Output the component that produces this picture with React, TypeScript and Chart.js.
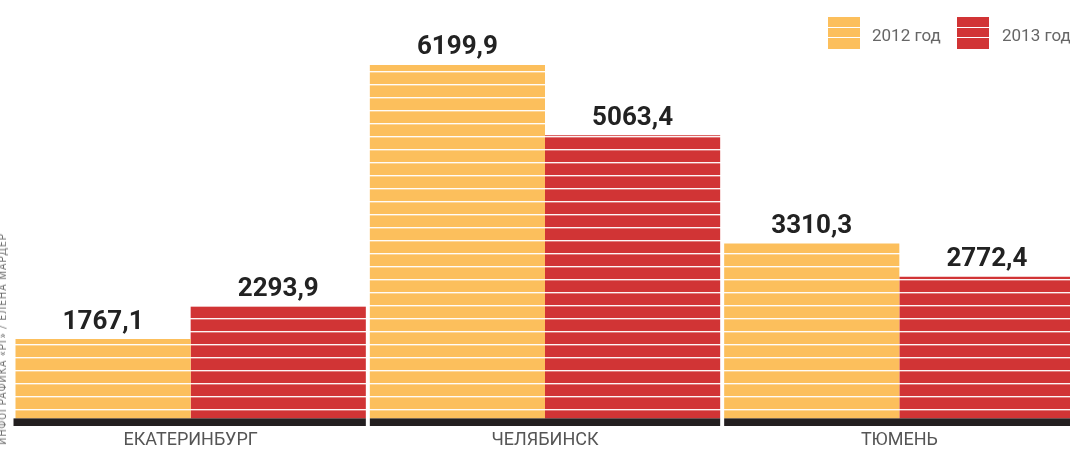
import { useEffect, useRef } from "react";
import { Chart, registerables } from "chart.js";

Chart.register(...registerables);

const categories = ["ЕКАТЕРИНБУРГ", "ЧЕЛЯБИНСК", "ТЮМЕНЬ"];
const values2012 = [1767.1, 6199.9, 3310.3];
const values2013 = [2293.9, 5063.4, 2772.4];
const seriesNames = ["2012 год", "2013 год"];
const creditText = "ИНФОГРАФИКА «РГ» / ЕЛЕНА МАРДЕР";

const COLOR_2012 = "#FCBF5C";
const COLOR_2013 = "#D13435";
const BASE_COLOR = "#231F20";

function makeStripe(color: string): CanvasPattern | string {
  const c = document.createElement("canvas");
  c.width = 16;
  c.height = 13;
  const g = c.getContext("2d");
  if (!g) return color;
  g.fillStyle = color;
  g.fillRect(0, 0, 16, 13);
  g.fillStyle = "rgba(255,255,255,0.95)";
  g.fillRect(0, 6, 16, 1);
  g.fillStyle = "rgba(255,255,255,0.35)";
  g.fillRect(0, 7, 16, 1);
  const p = g.createPattern(c, "repeat");
  return p || color;
}

const fmt = (v: number) => v.toFixed(1).replace(".", ",");

const baseBandPlugin = {
  id: "baseBand",
  afterDatasetsDraw(chart: any) {
    const { ctx, chartArea } = chart;
    const m0 = chart.getDatasetMeta(0).data;
    const m1 = chart.getDatasetMeta(1).data;
    ctx.save();
    ctx.fillStyle = BASE_COLOR;
    for (let i = 0; i < m0.length; i++) {
      const a = m0[i];
      const b = m1[i];
      const left = a.x - a.width / 2 - (i === 0 ? 2 : 0);
      const right = b.x + b.width / 2;
      ctx.fillRect(left, chartArea.bottom, right - left, 7.6);
    }
    ctx.restore();
  },
};

const valueLabelPlugin = {
  id: "valueLabels",
  afterDatasetsDraw(chart: any) {
    const { ctx } = chart;
    ctx.save();
    ctx.font = "bold 26px Roboto";
    ctx.fillStyle = "#222222";
    ctx.textAlign = "center";
    ctx.textBaseline = "alphabetic";
    chart.data.datasets.forEach((ds: any, di: number) => {
      const meta = chart.getDatasetMeta(di);
      meta.data.forEach((el: any, i: number) => {
        ctx.fillText(fmt(ds.data[i]), el.x, el.y - 10.5);
      });
    });
    ctx.restore();
  },
};

export default function App() {
  const ref = useRef<HTMLCanvasElement>(null);

  useEffect(() => {
    const canvas = ref.current;
    if (!canvas) return;
    const p2012 = makeStripe(COLOR_2012);
    const p2013 = makeStripe(COLOR_2013);
    const chart = new Chart(canvas, {
      type: "bar",
      data: {
        labels: categories,
        datasets: [
          {
            label: seriesNames[0],
            data: values2012,
            backgroundColor: p2012 as any,
            borderWidth: 0,
            barPercentage: 1,
            categoryPercentage: 0.9887,
          },
          {
            label: seriesNames[1],
            data: values2013,
            backgroundColor: p2013 as any,
            borderWidth: 0,
            barPercentage: 1,
            categoryPercentage: 0.9887,
          },
        ],
      },
      options: {
        animation: false,
        responsive: false,
        devicePixelRatio: 1,
        layout: { padding: { left: 13.5, right: 0.5, top: 46.4, bottom: 0 } },
        plugins: {
          legend: { display: false },
          tooltip: { enabled: false },
        },
        scales: {
          x: {
            type: "category",
            grid: { display: false, drawTicks: false },
            border: { display: false },
            ticks: {
              font: { family: "Roboto", size: 18 },
              color: "#555555",
              padding: 11,
            },
          },
          y: {
            display: false,
            min: 483,
            max: 6500,
          },
        },
      },
      plugins: [baseBandPlugin, valueLabelPlugin],
    });
    return () => chart.destroy();
  }, []);

  const boxBg = (c: string) =>
    `linear-gradient(to bottom, ${c} 0px, ${c} 10px, rgba(255,255,255,0.85) 10px, rgba(255,255,255,0.85) 11.5px, ${c} 11.5px, ${c} 20px, rgba(255,255,255,0.85) 20px, rgba(255,255,255,0.85) 21.5px, ${c} 21.5px, ${c} 100%)`;

  const legendItems = [
    { name: seriesNames[0], color: COLOR_2012, boxLeft: 828, textLeft: 872 },
    { name: seriesNames[1], color: COLOR_2013, boxLeft: 957, textLeft: 1002 },
  ];

  return (
    <div
      style={{
        position: "absolute",
        left: 0,
        top: 0,
        width: 1070,
        height: 451,
        overflow: "hidden",
        background: "#ffffff",
      }}
    >
      <canvas
        ref={ref}
        width={1077}
        height={462}
        style={{ display: "block", width: 1077, height: 462 }}
      />
      {legendItems.map((it) => (
        <div key={it.name}>
          <div
            style={{
              position: "absolute",
              left: it.boxLeft,
              top: 17,
              width: 32,
              height: 31.5,
              background: boxBg(it.color),
            }}
          />
          <span
            style={{
              position: "absolute",
              left: it.textLeft,
              top: 25,
              fontFamily: "Roboto",
              fontSize: 17,
              lineHeight: "20px",
              color: "#666666",
              whiteSpace: "nowrap",
            }}
          >
            {it.name}
          </span>
        </div>
      ))}
      <span
        style={{
          position: "absolute",
          left: -2.5,
          top: 233,
          fontFamily: "Roboto",
          fontSize: 10,
          lineHeight: "10px",
          letterSpacing: 1,
          color: "#6f6f6f",
          whiteSpace: "nowrap",
          transformOrigin: "left top",
          transform: "rotate(-90deg) translateX(-100%)",
        }}
      >
        {creditText}
      </span>
    </div>
  );
}
